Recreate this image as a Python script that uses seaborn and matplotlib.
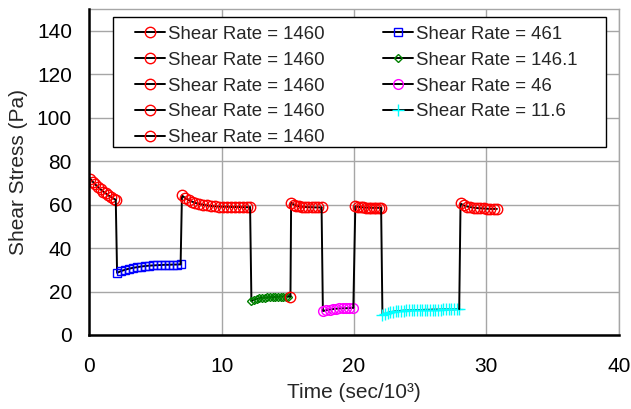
import matplotlib
matplotlib.use("Agg")
import matplotlib.pyplot as plt
from matplotlib.patches import Rectangle
import seaborn as sns

# Time (sec/10^3) and shear stress (Pa) for each constant-shear-rate step
red1_t = [0.05, 0.25, 0.45, 0.65, 0.85, 1.05, 1.25, 1.45, 1.65, 1.85, 2.0]
red1_y = [72.0, 70.6, 69.3, 68.1, 67.0, 66.0, 65.1, 64.2, 63.4, 62.7, 62.2]

blue_t = [2.1, 2.4, 2.7, 3.0, 3.3, 3.6, 3.9, 4.2, 4.5, 4.8, 5.1, 5.4, 5.7, 6.0, 6.3, 6.6, 6.9]
blue_y = [28.6, 29.4, 30.0, 30.5, 30.9, 31.2, 31.5, 31.7, 31.9, 32.0, 32.1, 32.2, 32.3, 32.3, 32.4, 32.4, 32.5]

red2_t = [7.0, 7.25, 7.5, 7.75, 8.0, 8.3, 8.6, 8.9, 9.2, 9.5, 9.8, 10.1, 10.4, 10.7, 11.0, 11.3, 11.6, 11.9, 12.15]
red2_y = [64.2, 63.0, 62.1, 61.4, 60.8, 60.3, 59.9, 59.6, 59.4, 59.2, 59.1, 59.0, 59.0, 58.9, 58.9, 58.9, 58.8, 58.8, 58.8]

green_t = [12.25, 12.45, 12.65, 12.85, 13.05, 13.25, 13.45, 13.65, 13.85, 14.05, 14.25, 14.45, 14.65, 14.85, 15.05]
green_y = [15.5, 16.2, 16.6, 16.9, 17.1, 17.2, 17.3, 17.4, 17.5, 17.5, 17.6, 17.6, 17.7, 17.7, 17.7]

red3_t = [15.2, 15.25, 15.45, 15.65, 15.85, 16.05, 16.3, 16.55, 16.8, 17.05, 17.3, 17.55]
red3_y = [17.7, 60.8, 60.0, 59.5, 59.2, 59.0, 58.9, 58.8, 58.8, 58.7, 58.7, 58.7]

magenta_t = [17.65, 17.9, 18.15, 18.4, 18.65, 18.9, 19.15, 19.4, 19.65, 19.95]
magenta_y = [11.0, 11.4, 11.7, 11.9, 12.1, 12.2, 12.3, 12.3, 12.4, 12.5]

red4_t = [20.1, 20.3, 20.5, 20.7, 20.9, 21.1, 21.3, 21.5, 21.7, 21.9, 22.05]
red4_y = [59.2, 59.0, 58.8, 58.7, 58.6, 58.6, 58.5, 58.5, 58.5, 58.5, 58.5]

cyan_t = [22.15, 22.35, 22.55, 22.75, 22.95, 23.15, 23.35, 23.55, 23.75, 23.95,
          24.15, 24.35, 24.55, 24.75, 24.95, 25.15, 25.35, 25.55, 25.75, 25.95,
          26.15, 26.35, 26.55, 26.75, 26.95, 27.15, 27.35, 27.55, 27.75, 27.95]
cyan_y = [9.2, 9.8, 10.2, 10.5, 10.7, 10.9, 11.0, 11.1, 11.2, 11.3,
          11.3, 11.4, 11.4, 11.5, 11.5, 11.5, 11.6, 11.6, 11.6, 11.7,
          11.7, 11.7, 11.7, 11.8, 11.8, 11.8, 11.8, 11.8, 11.9, 11.9]

red5_t = [28.05, 28.3, 28.55, 28.8, 29.05, 29.3, 29.55, 29.8, 30.05, 30.3, 30.55, 30.8]
red5_y = [60.5, 59.6, 59.1, 58.8, 58.6, 58.4, 58.3, 58.2, 58.1, 58.0, 58.0, 58.0]

shear_rates = ["1460", "461", "1460", "146.1", "1460", "46", "1460", "11.6", "1460"]
x_ticks = [0, 10, 20, 30, 40]
y_ticks = [0, 20, 40, 60, 80, 100, 120, 140]

sns.set_style("white")
plt.rcParams["font.family"] = ["Liberation Sans", "DejaVu Sans"]

AXIS_FS = 15
LEGEND_FS = 13.4

fig = plt.figure(figsize=(6.31, 4.09), dpi=100)
ax = fig.add_axes([0.1415, 0.181, 0.839, 0.797])

steps = [
    (red1_t, red1_y, "o", "red", 7.5),
    (blue_t, blue_y, "s", "blue", 6.0),
    (red2_t, red2_y, "o", "red", 7.5),
    (green_t, green_y, "D", "green", 4.0),
    (red3_t, red3_y, "o", "red", 7.5),
    (magenta_t, magenta_y, "o", "magenta", 7.0),
    (red4_t, red4_y, "o", "red", 7.5),
    (cyan_t, cyan_y, "+", "cyan", 8.0),
    (red5_t, red5_y, "o", "red", 7.5),
]

prev = None
for (t, y, mk, col, ms), rate in zip(steps, shear_rates):
    # join each step to the end of the previous one with a vertical line
    if prev is None:
        xs, ys, every = list(t), list(y), None
    else:
        xs, ys, every = [prev[0]] + list(t), [prev[1]] + list(y), slice(1, None)
    sns.lineplot(x=xs, y=ys, ax=ax, sort=False, estimator=None,
                 color="black", lw=1.4, marker=mk, ms=ms,
                 mfc="none", mec=col, mew=1.0, markevery=every,
                 label=f"Shear Rate = {rate}")
    prev = (t[-1], y[-1])

handles, labels = ax.get_legend_handles_labels()
order = [0, 2, 4, 6, 8, 1, 3, 5, 7]
leg = ax.legend([handles[i] for i in order], [labels[i] for i in order],
                ncol=2, loc="upper left", bbox_to_anchor=(0.0863, 0.948),
                borderaxespad=0, borderpad=0, frameon=False,
                fontsize=LEGEND_FS, handlelength=1.64,
                handletextpad=0.15, labelspacing=0.47, columnspacing=3.1)
leg.set_zorder(5)

# legend box
ax.add_patch(Rectangle((0.0453, 0.578), 0.9307, 0.398, transform=ax.transAxes,
                       facecolor="white", edgecolor="black", lw=1.0, zorder=4))

ax.set_xlim(0, 40)
ax.set_ylim(0, 150)
ax.set_xticks(x_ticks)
ax.set_yticks(y_ticks)
ax.grid(True, color="#a6a6a6", lw=1.0)
ax.set_axisbelow(True)

for side in ("left", "bottom"):
    ax.spines[side].set_color("black")
    ax.spines[side].set_linewidth(1.8)
    ax.spines[side].set_zorder(6)
for side in ("top", "right"):
    ax.spines[side].set_color("#a6a6a6")
    ax.spines[side].set_linewidth(1.0)

ax.tick_params(direction="out", length=5, width=1, color="#808080",
               labelsize=AXIS_FS, labelcolor="black")
ax.tick_params(axis="x", pad=11)
ax.tick_params(axis="y", pad=7.5)
ax.set_xlabel("Time (sec/10³)", fontsize=AXIS_FS, labelpad=5)
ax.set_ylabel("Shear Stress (Pa)", fontsize=AXIS_FS, labelpad=6)

fig.savefig("out.png", dpi=100)
